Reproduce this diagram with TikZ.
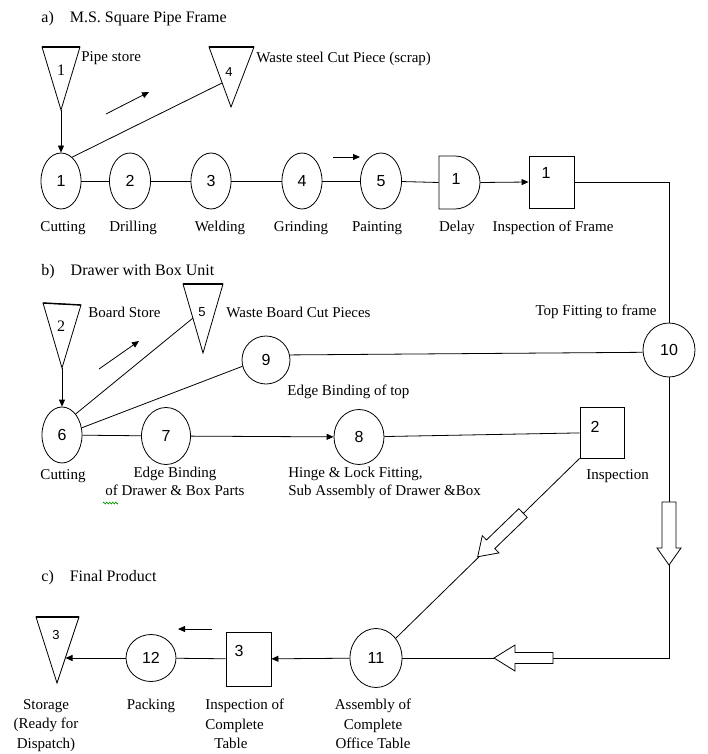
\documentclass[tikz,border=0pt]{standalone}
\usepackage{fontspec}
\setmainfont{Liberation Serif}
\newfontfamily\numfont{Liberation Sans}
\usetikzlibrary{shapes.geometric,arrows.meta,decorations.pathmorphing}
\newcommand{\hollowarrow}[6]{%
  \begin{scope}[shift={#1},rotate=#2]
    \draw[fill=white,line join=miter] (0,-#4) -- ({#3-#6},-#4) -- ({#3-#6},-#5) -- (#3,0) -- ({#3-#6},#5) -- ({#3-#6},#4) -- (0,#4) -- cycle;
  \end{scope}}
\begin{document}
\begin{tikzpicture}[x=1pt,y=-1pt,line width=0.8pt,
  opc/.style={ellipse,draw,inner sep=0pt,font=\numfont\fontsize{16}{18}\selectfont},
  insp/.style={rectangle,draw,inner sep=0pt},
  lbl/.style={font=\fontsize{15}{18}\selectfont,inner sep=0pt},
  lblb/.style={font=\fontsize{15}{19.5}\selectfont,inner sep=0pt},
  hdr/.style={font=\fontsize{16}{19}\selectfont,inner sep=0pt,anchor=west},
  num/.style={font=\numfont\fontsize{16}{18}\selectfont,inner sep=0pt},
  snum/.style={font=\numfont\fontsize{13}{15}\selectfont,inner sep=0pt},
  rnum/.style={font=\fontsize{16}{18}\selectfont,inner sep=0pt},
  arr/.style={-{Triangle[length=7pt,width=6pt]}},
  topbar/.style={line width=1.4pt}]
\useasboundingbox (0,0) rectangle (708,754);

% ---------- headers ----------
\node[hdr] (ha) at (41,19) {a)\hspace{16pt}M.S. Square Pipe Frame};
\node[hdr] (hb) at (41,272) {b)\hspace{16pt}Drawer with Box Unit};
\node[hdr] (hc) at (41,578) {c)\hspace{16pt}Final Product};

% ---------- section a ----------
\draw (42,47) -- (80,47) -- (61,110) -- cycle; \draw[topbar] (42,47) -- (80,47);
\coordinate (t1) at (61,110);
\node[rnum] (t1n) at (61,70) {1};
\node[lbl,anchor=west] (t1l) at (81,58) {Pipe store};

\draw (209,47) -- (254,47) -- (231,107) -- cycle; \draw[topbar] (209,47) -- (254,47);
\coordinate (t4L) at (222,83);
\node[snum] (t4n) at (229,72) {4};
\node[lbl,anchor=west] (t4l) at (256,59) {Waste steel Cut Piece (scrap)};

\node[opc,minimum width=40pt,minimum height=56pt] (c1) at (61,181) {1};
\node[opc,minimum width=41pt,minimum height=56pt] (c2) at (130,181) {2};
\node[opc,minimum width=40pt,minimum height=56pt] (c3) at (211,181) {3};
\node[opc,minimum width=40pt,minimum height=56pt] (c4) at (302,181) {4};
\node[opc,minimum width=41pt,minimum height=56pt] (c5) at (381,181) {5};
\draw (439,156) -- (455,156) .. controls (468.8,156) and (480,167.9) .. (480,182.5) .. controls (480,197.1) and (468.8,209) .. (455,209) -- (439,209) -- cycle;
\node[minimum width=41pt,minimum height=53pt,inner sep=0pt] (d1) at (459.5,182.5) {};
\node[num] (d1n) at (456,179) {1};
\node[insp,minimum width=45pt,minimum height=52pt] (b1) at (551.5,182) {};
\node[num] (b1n) at (546,173) {1};

\draw[arr] (t1) -- (c1.north);
\draw (c1.65) -- (t4L);
\coordinate (fa1) at (106,114); \coordinate (fa1e) at (149,92);
\draw[arr] (fa1) -- (fa1e);
\draw (c1) -- (c2); \draw (c2) -- (c3); \draw (c3) -- (c4); \draw (c4) -- (c5);
\draw (c5) -- (d1.west);
\draw[arr] (d1.east) -- (b1.west);
\coordinate (fa2) at (333,157); \coordinate (fa2e) at (360,157);
\draw[arr] (fa2) -- (fa2e);

\node[lbl] (l1) at (63,228) {Cutting};
\node[lbl] (l2) at (133,228) {Drilling};
\node[lbl] (l3) at (220,228) {Welding};
\node[lbl] (l4) at (301,228) {Grinding};
\node[lbl] (l5) at (377,228) {Painting};
\node[lbl] (l6) at (457,228) {Delay};
\node[lbl] (l7) at (553,228) {Inspection of Frame};

% ---------- section b ----------
\draw (43,303) -- (81,305) -- (62,368) -- cycle; \draw[topbar] (43,303) -- (81,305);
\coordinate (t2) at (62,368);
\node[rnum] (t2n) at (61,326) {2};
\node[lbl,anchor=west] (t2l) at (88,312) {Board Store};

\draw (183,284) -- (223,284) -- (203,353) -- cycle; \draw[topbar] (183,284) -- (223,284);
\coordinate (t5L) at (193,318);
\node[snum] (t5n) at (202,312) {5};
\node[lbl,anchor=west] (t5l) at (226,312) {Waste Board Cut Pieces};

\node[lbl,anchor=east] (l10) at (657,312) {Top Fitting to frame};
\node[opc,minimum width=52pt,minimum height=54pt] (c10) at (669,350) {10};
\node[opc,minimum width=48pt,minimum height=48pt] (c9) at (266,360) {9};
\node[lbl,anchor=west] (l9) at (287,392) {Edge Binding of top};

\node[opc,minimum width=40pt,minimum height=56pt] (c6) at (62,435) {6};
\node[opc,minimum width=49pt,minimum height=57pt] (c7) at (166,436) {7};
\node[opc,minimum width=50pt,minimum height=55pt] (c8) at (359,437) {8};
\node[insp,minimum width=44pt,minimum height=51pt] (b2) at (602,432.5) {};
\node[num] (b2n) at (595,427) {2};

\draw[arr] (t2) -- (c6.north);
\draw (c6.57) -- (t5L);
\coordinate (fa3) at (99,369); \coordinate (fa3e) at (139,341);
\draw[arr] (fa3) -- (fa3e);
\draw (c6.20) -- (c9.195);
\draw (c9.12) -- (c10.185);
\draw (c6) -- (c7);
\draw[arr] (c7) -- (c8);
\draw (c8) -- (b2);

\node[lbl] (l6b) at (63,476) {Cutting};
\node[lbl,align=center,anchor=north] (l7b) at (175,467) {Edge Binding\\of Drawer \& Box Parts};
\draw[green!60!black,line width=0.6pt,decorate,decoration={zigzag,amplitude=1pt,segment length=3pt}] (103,503) -- (118,503);
\node[lbl,align=left,anchor=north west] (l8b) at (288,467) {Hinge \& Lock Fitting,\\Sub Assembly of Drawer \&Box};
\node[lbl,anchor=west] (l2b) at (586,476) {Inspection};

% ---------- section c ----------
\draw (36,617) -- (79,617) -- (57,683) -- cycle; \draw[topbar] (36,617) -- (79,617);
\coordinate (t3R) at (65.5,658);
\node[snum] (t3n) at (56,635) {3};

\node[opc,minimum width=50pt,minimum height=47pt] (c12) at (151,658) {12};
\node[insp,minimum width=45pt,minimum height=54pt] (b3) at (248.5,659) {};
\node[num] (b3n) at (239,651) {3};
\node[opc,minimum width=52pt,minimum height=59pt] (c11) at (376,658) {11};

\coordinate (fa4) at (212,629); \coordinate (fa4e) at (178,629);
\draw[arr] (fa4) -- (fa4e);
\draw[arr] (c11) -- (b3);
\draw (b3) -- (c12);
\draw[arr] (c12) -- (t3R);

% right-hand return path
\coordinate (k1) at (669,182);
\coordinate (ha1t) at (669,502);
\coordinate (ha1h) at (669,565);
\coordinate (k2) at (669,658);
\coordinate (ha2t) at (553,658);
\coordinate (ha2h) at (494,658);
\coordinate (ha3t) at (523,513);
\draw (b1.east) -- (k1) -- (c10.north);
\draw (c10.south) -- (ha1t);
\draw (ha1h) -- (k2) -- (ha2t);
\draw (ha2h) -- (c11.east);
\draw (b2.south west) -- (c11.45);
\hollowarrow{(ha1t)}{-90}{63}{7}{12}{17}
\hollowarrow{(ha2t)}{180}{59}{5.5}{13}{21}
\hollowarrow{(ha3t)}{224}{63}{6}{12}{18}

\node[lblb,align=center,anchor=north] (ls) at (46,699) {Storage\\(Ready for\\Dispatch)};
\node[lbl,anchor=north] (lp) at (151,699) {Packing};
\node[lblb,align=left,anchor=north west] (li) at (205,699) {Inspection of\\Complete\\\hspace*{9pt}Table};
\node[lblb,align=center,anchor=north] (la) at (373,699) {Assembly of\\Complete\\Office Table};
\end{tikzpicture}
\end{document}
